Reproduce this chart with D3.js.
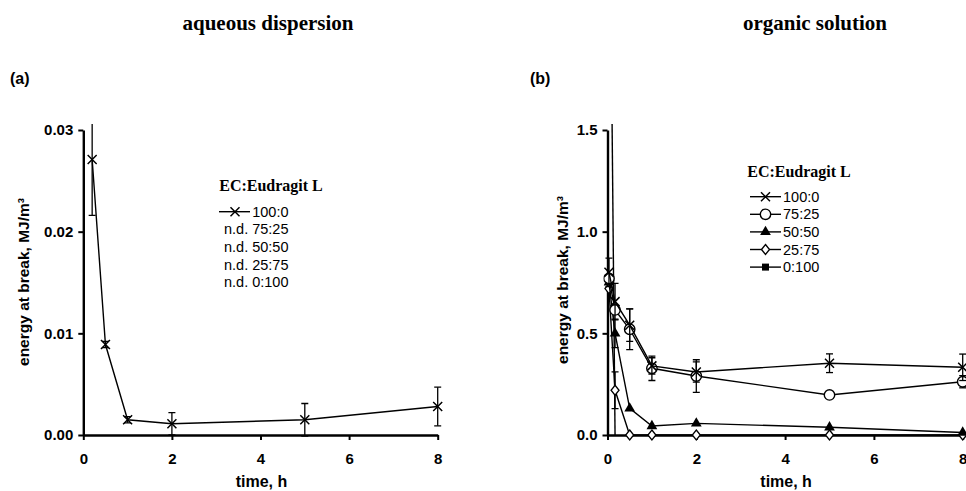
<!DOCTYPE html>
<html><head><meta charset="utf-8">
<script src="https://cdn.jsdelivr.net/npm/d3@7"></script>
<style>body{margin:0;background:#fff}svg{display:block}</style>
</head><body>
<svg id="c" width="966" height="491"></svg>
<script>
// ---------- data ----------
const xTicks = [0, 2, 4, 6, 8];
const yTicksA = [0, 0.01, 0.02, 0.03];
const yTicksB = [0, 0.5, 1.0, 1.5];

// (a) aqueous dispersion, EC:Eudragit L 100:0
const aTime = [0.2, 0.5, 1, 2, 5, 8];
const aVal  = [0.0271, 0.0089, 0.0015, 0.0011, 0.0015, 0.0028];
const aErr  = [0.0055, 0.0003, 0.0003, 0.0011, 0.0016, 0.0019];
const aLegend = ["100:0", "n.d. 75:25", "n.d. 50:50", "n.d. 25:75", "n.d. 0:100"];

// (b) organic solution
const bNames = ["100:0", "75:25", "50:50", "25:75", "0:100"];
const b100Time = [0.033, 0.17, 0.5, 1, 2, 5, 8];
const b100Val  = [0.80, 0.656, 0.54, 0.34, 0.31, 0.353, 0.333];
const b100Err  = [0.07, 0.09, 0.08, 0.04, 0.05, 0.046, 0.065];
const b75Time  = [0.033, 0.17, 0.5, 1, 2, 5, 8];
const b75Val   = [0.77, 0.615, 0.52, 0.328, 0.29, 0.197, 0.262];
const b75Err   = [0, 0, 0.1, 0.06, 0.08, 0, 0.03];
const b50Time  = [0.033, 0.17, 0.5, 1, 2, 5, 8];
const b50Val   = [0.75, 0.50, 0.131, 0.044, 0.057, 0.038, 0.012];
const b50Err   = [0, 0.07, 0, 0, 0, 0, 0];
const b25Time  = [0.033, 0.17, 0.5, 1, 2, 5, 8];
const b25Val   = [0.72, 0.22, 0, 0, 0, 0, 0];
const b25Err   = [0, 0.09, 0, 0, 0, 0, 0];
const b0Time   = [0.083, 0.17];
const b0Val    = [2.0, 0];

// ---------- drawing ----------
const svg = d3.select("#c");
const sans = "'Liberation Sans', Arial, sans-serif";
const serif = "'Liberation Serif', 'Times New Roman', serif";

function zip(t, v, e) { return t.map((d, i) => ({t: d, v: v[i], e: e ? e[i] : 0})); }

function panel(opts) {
  const x = d3.scaleLinear().domain([0, 8]).range(opts.xr);
  const y = d3.scaleLinear().domain(opts.yd).range([435, 130]);
  const g = svg.append("g");
  const id = "clip" + opts.key;
  svg.append("clipPath").attr("id", id).append("rect")
    .attr("x", opts.xr[0] - 4).attr("y", 124).attr("width", opts.xr[1] - opts.xr[0] + 10).attr("height", 320);

  const ya = g.append("g").attr("transform", `translate(${opts.xr[0]},0)`)
    .call(d3.axisLeft(y).tickValues(opts.yt).tickFormat(d3.format(opts.fmt)).tickSize(5).tickPadding(5).tickSizeOuter(0));
  const xa = g.append("g").attr("transform", "translate(0,435)")
    .call(d3.axisBottom(x).tickValues(xTicks).tickFormat(d3.format("d")).tickSize(5).tickPadding(13).tickSizeOuter(0));
  [ya, xa].forEach(a => {
    a.select(".domain").attr("stroke", "#000").attr("stroke-width", 2.4);
    a.selectAll(".tick line").attr("stroke", "#000").attr("stroke-width", 2);
    a.selectAll(".tick text").attr("font-family", sans).attr("font-weight", "bold").attr("font-size", 15).attr("fill", "#000");
  });

  g.append("text").attr("transform", `translate(${opts.ytx},${opts.yty}) rotate(-90)`)
    .attr("text-anchor", "middle").attr("font-family", sans).attr("font-weight", "bold").attr("font-size", 15.5)
    .text("energy at break, MJ/m³");
  g.append("text").attr("x", (opts.xr[0] + opts.xr[1]) / 2 + 1).attr("y", 487)
    .attr("text-anchor", "middle").attr("font-family", sans).attr("font-weight", "bold").attr("font-size", 16)
    .text("time, h");

  const plot = g.append("g").attr("clip-path", `url(#${id})`);
  return {x, y, g, plot};
}

function drawSeries(p, data, marker, skipZeroMarkers = false) {
  const line = d3.line().x(d => p.x(d.t)).y(d => p.y(d.v));
  p.plot.append("path").datum(data).attr("d", line).attr("fill", "none").attr("stroke", "#000").attr("stroke-width", 1.4);
  data.filter(d => d.e > 0).forEach(d => {
    const xx = p.x(d.t), y1 = p.y(d.v + d.e), y2 = p.y(d.v - d.e);
    const eg = p.plot.append("g").attr("stroke", "#000").attr("stroke-width", 1.3);
    eg.append("line").attr("x1", xx).attr("x2", xx).attr("y1", y1).attr("y2", y2);
    eg.append("line").attr("x1", xx - 3.5).attr("x2", xx + 3.5).attr("y1", y1).attr("y2", y1);
    eg.append("line").attr("x1", xx - 3.5).attr("x2", xx + 3.5).attr("y1", y2).attr("y2", y2);
  });
  data.filter(d => !(skipZeroMarkers && d.v === 0)).forEach(d => marker(p.plot, p.x(d.t), p.y(d.v)));
}

const mk = {
  cross: (g, x, y) => {
    const s = 4.5;
    g.append("path").attr("d", `M${x - s},${y - s}L${x + s},${y + s}M${x - s},${y + s}L${x + s},${y - s}`)
      .attr("stroke", "#000").attr("stroke-width", 1.5).attr("fill", "none");
  },
  circle: (g, x, y) => g.append("circle").attr("cx", x).attr("cy", y).attr("r", 5.2)
    .attr("fill", "#fff").attr("stroke", "#000").attr("stroke-width", 1.4),
  triangle: (g, x, y) => g.append("path").attr("d", d3.symbol(d3.symbolTriangle, 50)())
    .attr("transform", `translate(${x},${y})`).attr("fill", "#000"),
  diamond: (g, x, y) => g.append("path").attr("d", `M${x},${y - 5}L${x + 4},${y}L${x},${y + 5}L${x - 4},${y}Z`)
    .attr("fill", "#fff").attr("stroke", "#000").attr("stroke-width", 1.3),
  square: (g, x, y) => g.append("rect").attr("x", x - 3.5).attr("y", y - 3.5).attr("width", 7).attr("height", 7).attr("fill", "#000")
};

// titles
svg.append("text").attr("x", 268).attr("y", 30).attr("text-anchor", "middle")
  .attr("font-family", serif).attr("font-weight", "bold").attr("font-size", 21).text("aqueous dispersion");
svg.append("text").attr("x", 815).attr("y", 30).attr("text-anchor", "middle")
  .attr("font-family", serif).attr("font-weight", "bold").attr("font-size", 21).text("organic solution");
svg.append("text").attr("x", 10).attr("y", 84).attr("font-family", sans).attr("font-weight", "bold").attr("font-size", 16).text("(a)");
svg.append("text").attr("x", 530).attr("y", 84).attr("font-family", sans).attr("font-weight", "bold").attr("font-size", 16).text("(b)");

// panel a
const pa = panel({key: "a", xr: [83.3, 437.7], yd: [0, 0.03], yt: yTicksA, fmt: ".2f", ytx: 29, yty: 282});
drawSeries(pa, zip(aTime, aVal, aErr), mk.cross);

// legend a
svg.append("text").attr("x", 271).attr("y", 191).attr("text-anchor", "middle")
  .attr("font-family", serif).attr("font-weight", "bold").attr("font-size", 16).text("EC:Eudragit L");
aLegend.forEach((t, i) => {
  const yy = 211.7 + i * 17.6;
  svg.append("text").attr("x", 288.5).attr("y", yy + 5).attr("text-anchor", "end")
    .attr("font-family", sans).attr("font-size", 14.5).text(t);
  if (i === 0) {
    svg.append("line").attr("x1", 219).attr("x2", 250).attr("y1", yy).attr("y2", yy).attr("stroke", "#000").attr("stroke-width", 1.4);
    mk.cross(svg, 235, yy);
  }
});

// panel b
const pb = panel({key: "b", xr: [607.5, 962.7], yd: [0, 1.5], yt: yTicksB, fmt: ".1f", ytx: 568, yty: 280});
drawSeries(pb, zip(b0Time, b0Val), mk.square, true);
drawSeries(pb, zip(b25Time, b25Val, b25Err), mk.diamond);
drawSeries(pb, zip(b50Time, b50Val, b50Err), mk.triangle);
drawSeries(pb, zip(b75Time, b75Val, b75Err), mk.circle);
drawSeries(pb, zip(b100Time, b100Val, b100Err), mk.cross);

// legend b
svg.append("text").attr("x", 799).attr("y", 177).attr("text-anchor", "middle")
  .attr("font-family", serif).attr("font-weight", "bold").attr("font-size", 16).text("EC:Eudragit L");
const bMarks = [mk.cross, mk.circle, mk.triangle, mk.diamond, mk.square];
bNames.forEach((t, i) => {
  const yy = 196.7 + i * 17.6;
  svg.append("line").attr("x1", 750).attr("x2", 781).attr("y1", yy).attr("y2", yy).attr("stroke", "#000").attr("stroke-width", 1.4);
  bMarks[i](svg, 765.5, yy);
  svg.append("text").attr("x", 783).attr("y", yy + 5).attr("font-family", sans).attr("font-size", 14.5).text(t);
});
</script>
</body></html>
